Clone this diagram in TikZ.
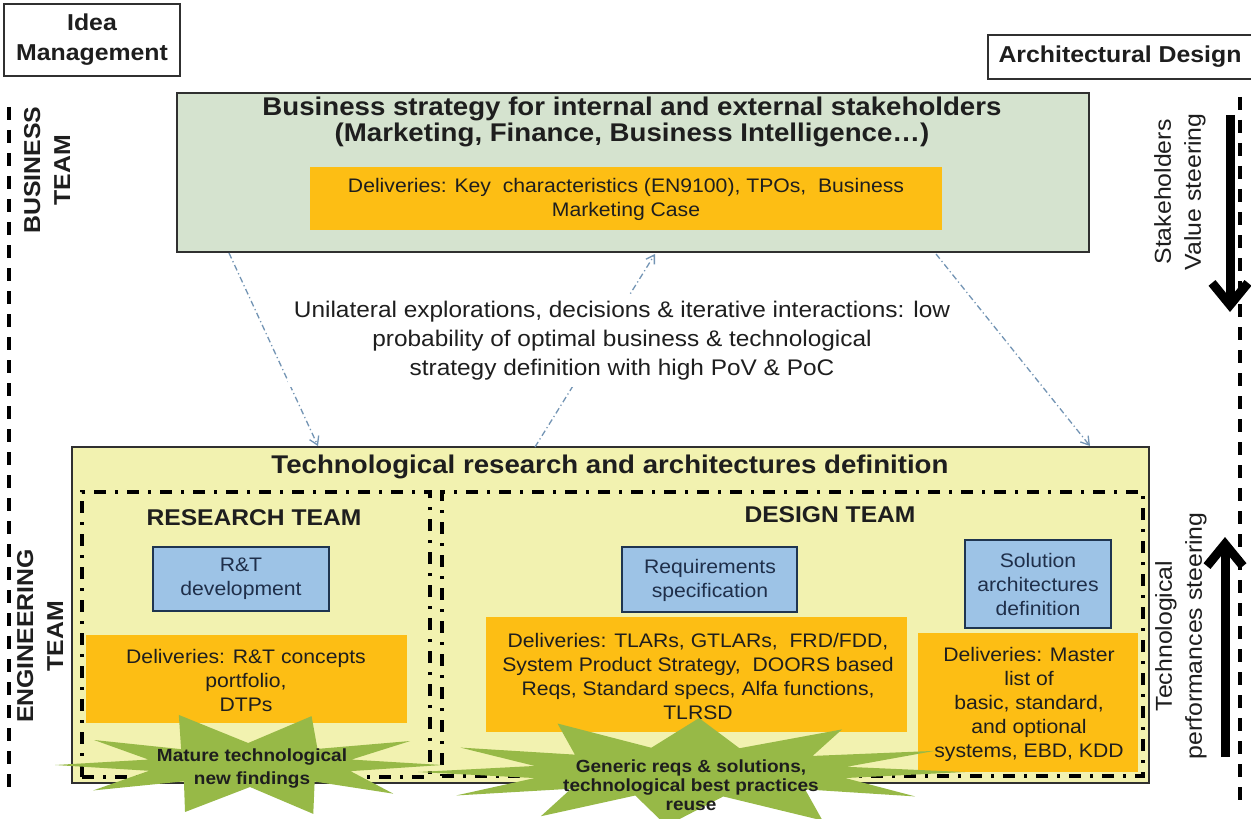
\documentclass[tikz,border=0pt]{standalone}
\usepackage{fontspec}
\setmainfont{Liberation Sans}[FakeStretch=1.08]
\usetikzlibrary{arrows.meta,calc,fit}
\definecolor{bizgreen}{HTML}{D5E3CF}
\definecolor{techyellow}{HTML}{F2F2B0}
\definecolor{delorange}{HTML}{FDBE14}
\definecolor{boxblue}{HTML}{9DC3E6}
\definecolor{burstgreen}{HTML}{97B947}
\definecolor{conncol}{HTML}{7394B4}
\definecolor{boxline}{HTML}{303030}
\definecolor{blueline}{HTML}{1F3550}
\definecolor{txtcol}{HTML}{1E1E1E}
\definecolor{bluetxt}{HTML}{1F2F4A}
\newcommand{\titlef}{\bfseries\fontsize{12.8pt}{11.5pt}\selectfont}
\newcommand{\lblf}{\bfseries\fontsize{11.5pt}{15pt}\selectfont}
\newcommand{\teamf}{\bfseries\fontsize{11.4pt}{14pt}\selectfont}
\newcommand{\delf}{\fontsize{9.8pt}{12pt}\selectfont}
\newcommand{\midf}{\fontsize{11.3pt}{14.5pt}\selectfont}
\newcommand{\steerf}{\fontsize{11.5pt}{15pt}\selectfont}
\newcommand{\burstf}{\bfseries\fontsize{8.8pt}{11.5pt}\selectfont}
\newcommand{\burstg}{\bfseries\fontsize{8.8pt}{9.6pt}\selectfont}
\begin{document}
\begin{tikzpicture}[x=0.5pt,y=-0.5pt,
  box/.style={draw=boxline, line width=0.8pt, inner sep=0pt},
  bluebox/.style={draw=blueline, line width=0.9pt, inner sep=0pt, fill=boxblue},
  plainbox/.style={inner sep=0pt},
  txt/.style={inner sep=0pt, align=center, text=txtcol},
  frame/.style={draw=black, line width=1.75pt, dash pattern=on 6pt off 4.5pt on 1.5pt off 4.5pt},
  sideline/.style={draw=black, line width=2pt, dash pattern=on 6.5pt off 5pt},
  conn/.style={draw=conncol, line width=0.65pt, dash pattern=on 3pt off 1.5pt on 0.6pt off 1.5pt, -{Straight Barb[length=4pt,width=5pt]}},
  steer/.style={draw=black, line width=4.5pt, -{Straight Barb[length=11pt,width=18pt]}},
  burst/.style={fill=burstgreen}
]
\useasboundingbox (0,0) rectangle (1251,818);
\fill[white] (0,0) rectangle (1251,818);

% corner labels
\node[box, fit={(4,4) (180,76)}] (idea) {};
\node[txt, font=\lblf] (ideatxt) at (92,40) {Idea\\Management};
\node[box, fit={(988,35) (1258,79)}] (arch) {};
\node[txt, font=\lblf] (archtxt) at (1120,57) {Architectural Design};

% side dashed lines
\coordinate (ltop) at (9,107);
\coordinate (lbot) at (9,788);
\draw[sideline] (ltop) -- (lbot);
\coordinate (rtop) at (1240,97);
\coordinate (rbot) at (1240,800);
\draw[sideline] (rtop) -- (rbot);

% side labels
\node[txt, font=\lblf, rotate=90] (bizteam) at (47,170) {BUSINESS\\TEAM};
\node[txt, font=\lblf, rotate=90] (engteam) at (40,636) {ENGINEERING\\TEAM};
\node[txt, font=\steerf, rotate=90] (stake) at (1180,192) {Stakeholders\\Value steering};
\node[txt, font=\steerf, rotate=90] (techperf) at (1181,636) {Technological\\performances steering};

% steering arrows
\coordinate (sdA) at (1230,115);
\coordinate (sdB) at (1230,312);
\draw[steer] (sdA) -- (sdB);
\coordinate (suA) at (1225,757);
\coordinate (suB) at (1225,537);
\draw[steer] (suA) -- (suB);

% business box
\node[box, fill=bizgreen, fit={(177,93) (1089,252)}] (biz) {};
\node[txt, font=\titlef] (biztitle) at (632,122) {Business strategy for internal and external stakeholders\\(Marketing, Finance, Business Intelligence…)};
\node[plainbox, fill=delorange, fit={(310,167) (942,230)}] (bizdel) {};
\node[txt, font=\delf] (bizdeltxt) at (626,199) {Deliveries: Key\ \ characteristics (EN9100), TPOs,\ \ Business\\Marketing Case};

% technology box
\node[box, fill=techyellow, fit={(72,447) (1149,783)}] (tech) {};
\node[txt, font=\titlef] (techtitle) at (610,467) {Technological research and architectures definition};

% deliveries
\node[plainbox, fill=delorange, fit={(86,635) (407,723)}] (resdel) {};
\node[txt, font=\delf] (resdeltxt) at (246,680) {Deliveries: R\&T concepts\\portfolio,\\DTPs};
\node[plainbox, fill=delorange, fit={(486,617) (907,732)}] (desdel) {};
\node[txt, font=\delf] (desdeltxt) at (698,676) {Deliveries: TLARs, GTLARs,\ \ FRD/FDD,\\System Product Strategy,\ \ DOORS based\\Reqs, Standard specs, Alfa functions,\\TLRSD};
\node[plainbox, fill=delorange, fit={(918,633) (1138,772)}] (soldel) {};
\node[txt, font=\delf] (soldeltxt) at (1029,704) {Deliveries: Master\\list of\\basic, standard,\\and optional\\systems, EBD, KDD};

% blue boxes
\node[bluebox, fit={(153,547) (329,611)}] (rtdev) {};
\node[txt, text=bluetxt, font=\delf] (rtdevtxt) at (241,579) {R\&T\\development};
\node[bluebox, fit={(622,547) (797,612)}] (reqspec) {};
\node[txt, text=bluetxt, font=\delf] (reqspectxt) at (710,580) {Requirements\\specification};
\node[bluebox, fit={(965,540) (1111,628)}] (solarch) {};
\node[txt, text=bluetxt, font=\delf] (solarchtxt) at (1038,584) {Solution\\architectures\\definition};

% team frames
\node[frame, inner sep=0pt, fit={(82,492) (430,777)}] (resfr) {};
\node[frame, inner sep=0pt, fit={(442,492) (1143,776)}] (desfr) {};
\node[txt, font=\teamf] (restitle) at (254,518) {RESEARCH TEAM};
\node[txt, font=\teamf] (destitle) at (830,515) {DESIGN TEAM};

% starbursts
\coordinate (b1) at (250,765);
\fill[burst] ($(b1)+(0:192 and 47)$) -- ($(b1)+(17:105 and 21)$)
 -- ($(b1)+(35:175 and 50)$) -- ($(b1)+(52:105 and 21)$)
 -- ($(b1)+(70:185 and 52)$) -- ($(b1)+(90:105 and 22)$)
 -- ($(b1)+(110:190 and 50)$) -- ($(b1)+(129:105 and 21)$)
 -- ($(b1)+(148:185 and 48)$) -- ($(b1)+(164:105 and 21)$)
 -- ($(b1)+(180:195 and 45)$) -- ($(b1)+(195:105 and 21)$)
 -- ($(b1)+(210:180 and 50)$) -- ($(b1)+(229:105 and 21)$)
 -- ($(b1)+(248:190 and 54)$) -- ($(b1)+(269:105 and 22)$)
 -- ($(b1)+(290:180 and 52)$) -- ($(b1)+(310:105 and 21)$)
 -- ($(b1)+(330:185 and 48)$) -- ($(b1)+(345:105 and 21)$) -- cycle;
\node[txt, font=\burstf] (b1txt) at (252,768) {Mature technological\\new findings};

\coordinate (b2) at (690,772);
\fill[burst] ($(b2)+(0:275 and 50)$) -- ($(b2)+(14:160 and 25)$)
 -- ($(b2)+(28:255 and 52)$) -- ($(b2)+(44:160 and 25)$)
 -- ($(b2)+(60:265 and 56)$) -- ($(b2)+(78:160 and 25)$)
 -- ($(b2)+(95:270 and 54)$) -- ($(b2)+(110:160 and 25)$)
 -- ($(b2)+(125:260 and 54)$) -- ($(b2)+(138:160 and 25)$)
 -- ($(b2)+(152:265 and 50)$) -- ($(b2)+(166:160 and 25)$)
 -- ($(b2)+(180:272 and 48)$) -- ($(b2)+(194:160 and 25)$)
 -- ($(b2)+(208:260 and 52)$) -- ($(b2)+(224:160 and 25)$)
 -- ($(b2)+(240:265 and 56)$) -- ($(b2)+(256:160 and 25)$)
 -- ($(b2)+(272:260 and 54)$) -- ($(b2)+(288:160 and 25)$)
 -- ($(b2)+(305:265 and 52)$) -- ($(b2)+(320:160 and 25)$)
 -- ($(b2)+(335:270 and 50)$) -- ($(b2)+(348:160 and 25)$) -- cycle;
\node[txt, font=\burstg] (b2txt) at (691,785) {Generic reqs \& solutions,\\technological best practices\\reuse};

% connectors
\coordinate (c1a) at (229,253);
\coordinate (c1b) at (318,446);
\draw[conn] (c1a) -- (c1b);
\coordinate (c2a) at (535,447);
\coordinate (c2b) at (655,254);
\draw[conn] (c2a) -- (c2b);
\coordinate (c3a) at (936,254);
\coordinate (c3b) at (1090,446);
\draw[conn] (c3a) -- (c3b);

\node[txt, fill=white, inner sep=3pt, font=\midf] (mid) at (622,341) {Unilateral explorations, decisions \& iterative interactions: low\\probability of optimal business \& technological\\strategy definition with high PoV \& PoC};
\end{tikzpicture}
\end{document}
